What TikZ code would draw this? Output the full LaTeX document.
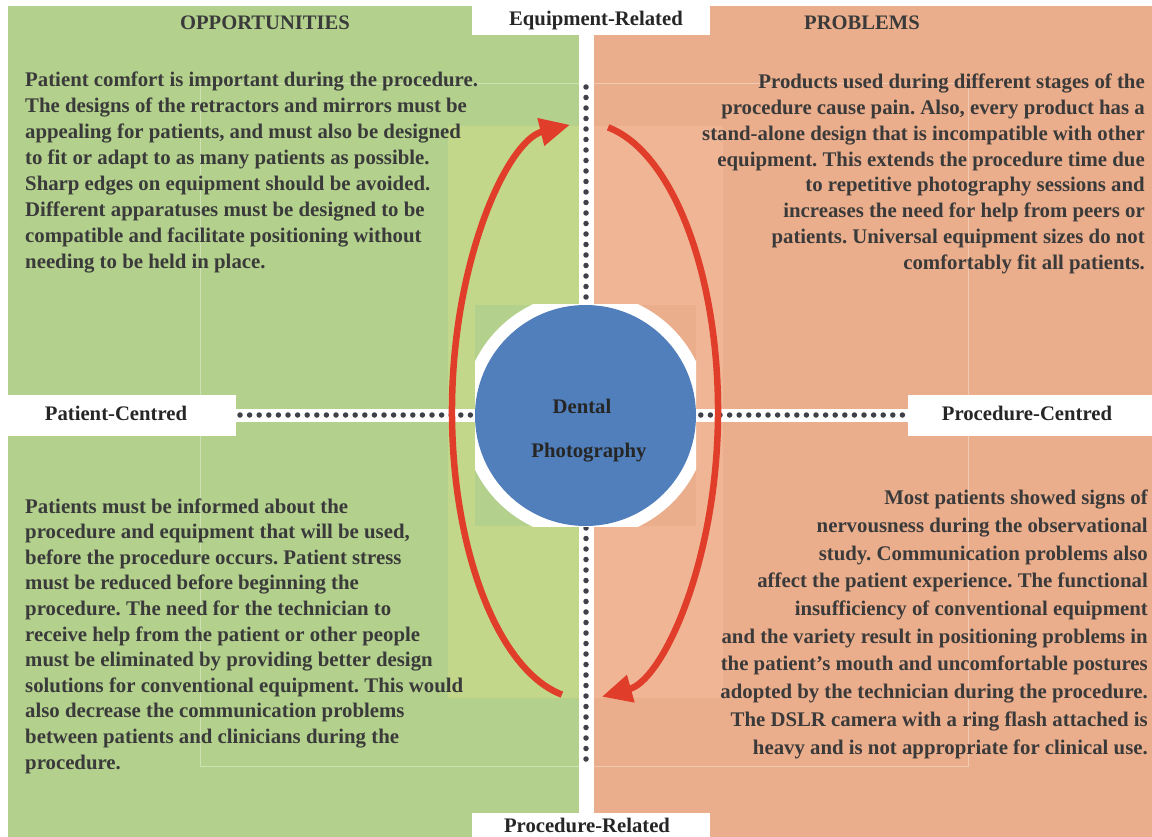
\documentclass[tikz,border=0pt]{standalone}
\usepackage{fontspec}
\setmainfont{Liberation Serif}
\usetikzlibrary{arrows.meta}
\frenchspacing
\definecolor{gbase}{HTML}{B3D18D}
\definecolor{glight}{HTML}{C3D78A}
\definecolor{obase}{HTML}{EBAE8C}
\definecolor{olight}{HTML}{F0B595}
\definecolor{dblue}{HTML}{507FBB}
\definecolor{ared}{HTML}{E03D2B}
\definecolor{dotc}{HTML}{404048}
\definecolor{txt}{HTML}{3A3A3A}
\tikzset{
  body/.style={font=\bfseries\fontsize{20.8}{26}\selectfont, text=txt, inner sep=0pt},
  head/.style={font=\bfseries\fontsize{20.6}{22}\selectfont, text=txt, inner sep=0pt},
  axlab/.style={font=\bfseries\fontsize{20.7}{22}\selectfont, text=black!85, inner sep=0pt},
  dots/.style={draw=dotc, line width=5.5pt, line cap=round, dash pattern=on 0pt off #1},
  redarc/.style={draw=ared, line width=6.5pt, -{Triangle[length=30pt,width=27pt]}},
  faint/.style={draw=white, draw opacity=0.35, line width=0.8pt}
}
\begin{document}
\begin{tikzpicture}[x=1pt,y=-1pt]
\useasboundingbox (0,0) rectangle (1152,837);
\fill[white] (0,0) rectangle (1152,837);
% quadrants
\fill[gbase] (8,6) rectangle (579,837);
\fill[obase] (594,6) rectangle (1152,837);
\fill[glight] (448,126) rectangle (579,698);
\fill[olight] (594,126) rectangle (723,698);
\draw[faint] (200,83) rectangle (968,766);
% white strips
\fill[white] (579,6) rectangle (594,837);
\fill[white] (8,409) rectangle (1152,422);
% dotted axes
\coordinate (vt) at (586,87);
\coordinate (vb) at (586,763);
\coordinate (hl) at (240,415);
\coordinate (hr) at (904,415);
\draw[dots=10.5pt] (vt) -- (vb);
\draw[dots=9.6pt] (hl) -- (hr);
% label boxes
\fill[white] (472,0) rectangle (710,35);
\fill[white] (472,813) rectangle (710,837);
\fill[white] (0,395) rectangle (236,436);
\fill[white] (908,395) rectangle (1152,436);
% centre square and circle
\begin{scope}
\clip (475,305) rectangle (696,526);
\fill[gbase] (475,305) rectangle (579,526);
\fill[obase] (579,305) rectangle (696,526);
\fill[white] (585.5,415.5) circle[radius=123];
\end{scope}
\node[circle, fill=dblue, minimum size=221pt, inner sep=0pt] (hub) at (585.5,415.5) {};
\node[axlab, anchor=base] (d1) at (582,413) {Dental};
\node[axlab, anchor=base] (d2) at (589,457) {Photography};
% red arcs
\coordinate (la) at (561.9,694.6);
\coordinate (ra) at (608.1,127.4);
\draw[redarc] (la) arc[start angle=100, end angle=263.5, x radius=133, y radius=288];
\draw[redarc] (ra) arc[start angle=-80, end angle=82.7, x radius=133, y radius=288];
% labels
\node[head, anchor=base] (opp) at (265,30) {OPPORTUNITIES};
\node[head, anchor=base] (prob) at (862,30) {PROBLEMS};
\node[axlab, anchor=base] (eq) at (596,26) {Equipment-Related};
\node[axlab, anchor=base] (pr) at (587,832) {Procedure-Related};
\node[axlab, anchor=base] (pc) at (116,420) {Patient-Centred};
\node[axlab, anchor=base] (prc) at (1027,420) {Procedure-Centred};
% text blocks (base anchor = last line baseline)
\node[body, anchor=base west, align=left] (tl) at (25,269) {Patient comfort is important during the procedure.\\
The designs of the retractors and mirrors must be\\
appealing for patients, and must also be designed\\
to fit or adapt to as many patients as possible.\\
Sharp edges on equipment should be avoided.\\
Different apparatuses must be designed to be\\
compatible and facilitate positioning without\\
needing to be held in place.};
\node[body, anchor=base east, align=right] (tr) at (1145,270) {Products used during different stages of the\\
procedure cause pain. Also, every product has a\\
stand-alone design that is incompatible with other\\
equipment. This extends the procedure time due\\
to repetitive photography sessions and\\
increases the need for help from peers or\\
patients. Universal equipment sizes do not\\
comfortably fit all patients.};
\node[body, anchor=base west, align=left, font=\bfseries\fontsize{20.8}{25.6}\selectfont] (bl) at (25,769) {Patients must be informed about the\\
procedure and equipment that will be used,\\
before the procedure occurs. Patient stress\\
must be reduced before beginning the\\
procedure. The need for the technician to\\
receive help from the patient or other people\\
must be eliminated by providing better design\\
solutions for conventional equipment. This would\\
also decrease the communication problems\\
between patients and clinicians during the\\
procedure.};
\node[body, anchor=base east, align=right, font=\bfseries\fontsize{20.8}{27.7}\selectfont] (br) at (1148,754) {Most patients showed signs of\\
nervousness during the observational\\
study. Communication problems also\\
affect the patient experience. The functional\\
insufficiency of conventional equipment\\
and the variety result in positioning problems in\\
the patient’s mouth and uncomfortable postures\\
adopted by the technician during the procedure.\\
The DSLR camera with a ring flash attached is\\
heavy and is not appropriate for clinical use.};
\end{tikzpicture}
\end{document}
